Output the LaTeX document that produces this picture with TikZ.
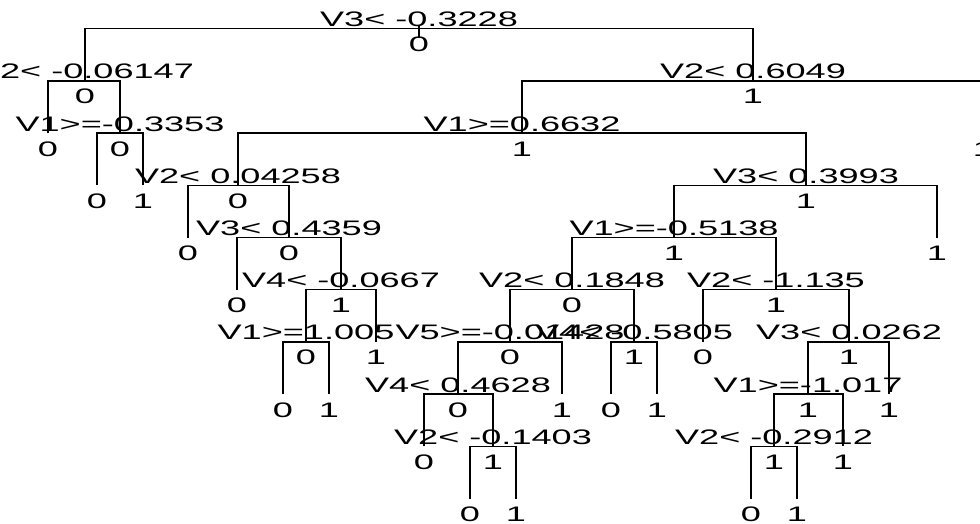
\documentclass[tikz,border=0pt]{standalone}
\usepackage{fontspec}
\newfontfamily\lblfont[FakeStretch=1.72]{Liberation Sans}
\begin{document}
\begin{tikzpicture}[x=1pt,y=-1pt,
  lbl/.style={anchor=base,inner sep=0pt,font=\lblfont\fontsize{21}{21}\selectfont},
  branch/.style={line width=1.5pt,black,line cap=butt}]
\useasboundingbox (0,0) rectangle (980,523);
\clip (0,0) rectangle (980,523);
\fill[white] (0,0) rectangle (980,523);
% depth levels
\def\dA{28.7}\def\dB{80.9}\def\dC{133.1}\def\dD{185.3}\def\dE{237.5}
\def\dF{289.7}\def\dG{341.9}\def\dH{394.1}\def\dI{446.3}\def\dJ{498.5}
% tree positions
\coordinate (r) at (419,\dA);
\coordinate (a) at (85,\dB);
\coordinate (aL) at (48,\dC);
\coordinate (aR) at (120,\dC);
\coordinate (aRL) at (97,\dD);
\coordinate (aRR) at (143,\dD);
\coordinate (b) at (753,\dB);
\coordinate (bL) at (522,\dC);
\coordinate (bR) at (983,\dC);
\coordinate (c) at (238,\dD);
\coordinate (cL) at (188,\dE);
\coordinate (cR) at (289,\dE);
\coordinate (cRL) at (237,\dF);
\coordinate (cRR) at (341,\dF);
\coordinate (e) at (306,\dG);
\coordinate (eL) at (283,\dH);
\coordinate (eR) at (329,\dH);
\coordinate (eS) at (376,\dG);
\coordinate (d) at (806,\dD);
\coordinate (dR) at (937,\dE);
\coordinate (f) at (674,\dE);
\coordinate (g) at (572,\dF);
\coordinate (h) at (510,\dG);
\coordinate (i) at (458,\dH);
\coordinate (iL) at (424,\dI);
\coordinate (j) at (493,\dI);
\coordinate (jL) at (470,\dJ);
\coordinate (jR) at (516,\dJ);
\coordinate (hR) at (562,\dH);
\coordinate (k) at (634,\dG);
\coordinate (kL) at (611,\dH);
\coordinate (kR) at (657,\dH);
\coordinate (m) at (776,\dF);
\coordinate (mL) at (703,\dG);
\coordinate (n) at (849,\dG);
\coordinate (nR) at (889,\dH);
\coordinate (o) at (808,\dH);
\coordinate (oR) at (843,\dI);
\coordinate (q) at (774,\dI);
\coordinate (qL) at (751,\dJ);
\coordinate (qR) at (797,\dJ);
\coordinate (rtop) at (419,25);
\coordinate (rbot) at (419,38);
% branches: horizontal bar at parent level, verticals down to children
\foreach \p/\l/\rr in {r/a/b, a/aL/aR, aR/aRL/aRR, b/bL/bR, bL/c/d, c/cL/cR,
  cR/cRL/cRR, cRR/e/eS, e/eL/eR, d/f/dR, f/g/m, g/h/k, h/i/hR, i/iL/j,
  j/jL/jR, k/kL/kR, m/mL/n, n/o/nR, o/q/oR, q/qL/qR}{
  \draw[branch] (\l) -- (\l |- \p) -- (\rr |- \p) -- (\rr);
}
\draw[branch] (rtop) -- (rbot);
% split labels
\foreach \p/\t in {r/{V3< -0.3228}, a/{V2< -0.06147}, aR/{V1>=-0.3353},
  b/{V2< 0.6049}, bL/{V1>=0.6632}, c/{V2< 0.04258}, cR/{V3< 0.4359},
  cRR/{V4< -0.0667}, e/{V1>=1.005}, d/{V3< 0.3993}, f/{V1>=-0.5138},
  g/{V2< 0.1848}, h/{V5>=-0.01428}, i/{V4< 0.4628}, j/{V2< -0.1403},
  k/{V4< -0.5805}, m/{V2< -1.135}, n/{V3< 0.0262}, o/{V1>=-1.017},
  q/{V2< -0.2912}}{
  \node[lbl] (s\p) at ([yshift=2pt]\p) {\t};
}
% fitted class labels
\foreach \p/\t in {r/0, a/0, aL/0, aR/0, aRL/0, aRR/1, b/1, bL/1, bR/1,
  c/0, cL/0, cR/0, cRL/0, cRR/1, e/0, eL/0, eR/1, eS/1, d/1, dR/1, f/1,
  g/0, h/0, i/0, iL/0, j/1, jL/0, jR/1, hR/1, k/1, kL/0, kR/1, m/1, mL/0,
  n/1, nR/1, o/1, oR/1, q/1, qL/0, qR/1}{
  \node[lbl] (y\p) at ([yshift=-23pt]\p) {\t};
}
\end{tikzpicture}
\end{document}
